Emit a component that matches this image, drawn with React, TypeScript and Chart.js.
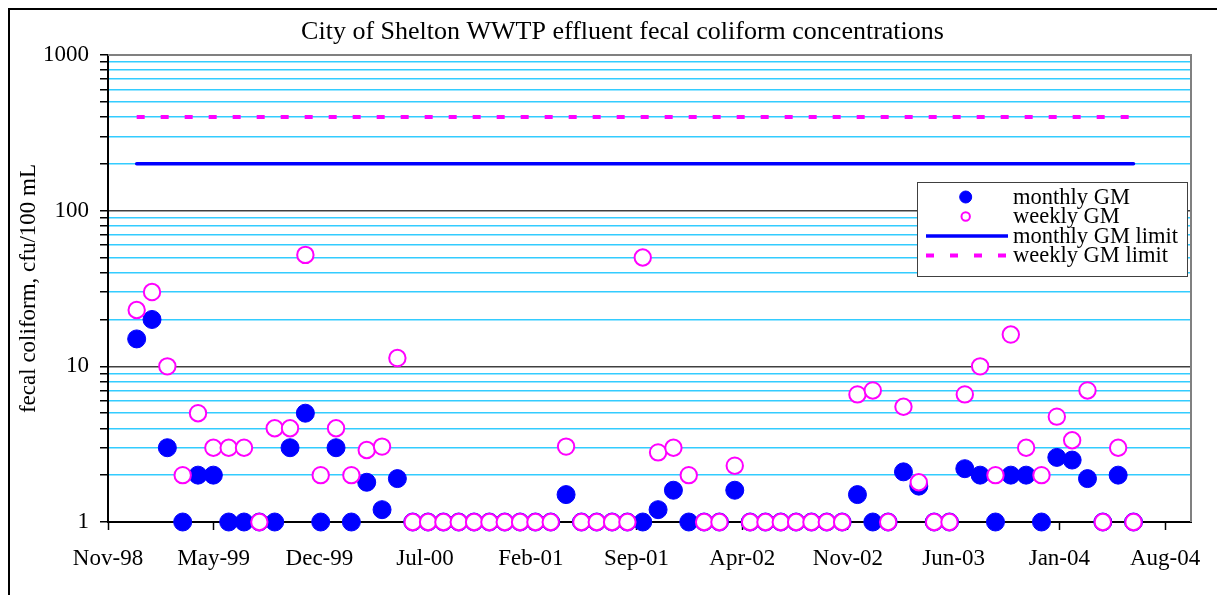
import React, { useEffect, useRef } from 'react';
import { Chart, registerables } from 'chart.js';

Chart.register(...registerables);

const SERIF = "'Liberation Serif', 'Times New Roman', Times, serif";

const chartTitle = 'City of Shelton WWTP effluent fecal coliform concentrations';
const yAxisTitle = 'fecal coliform, cfu/100 mL';
const seriesLabels = ['monthly GM', 'weekly GM', 'monthly GM limit', 'weekly GM limit'];

// one value per sampling month, Dec-98 (index 0) through May-04 (index 65)
const monthlyGM = [
  15, 20, 3, 1, 2, 2, 1, 1, 1, 1, 3, 5, 1, 3, 1, 1.8, 1.2, 1.9,
  1, 1, 1, 1, 1, 1, 1, 1, 1, 1,
  1.5, 1, 1, 1, 1,
  1, 1.2, 1.6, 1, 1, 1, 1.6,
  1, 1, 1, 1, 1, 1, 1,
  1.5, 1, 1, 2.1, 1.7, 1, 1, 2.2, 2, 1, 2, 2, 1, 2.6, 2.5, 1.9, 1, 2, 1,
];
const weeklyGM = [
  23, 30, 10, 2, 5, 3, 3, 3, 1, 4, 4, 52, 2, 4, 2, 2.9, 3.05, 11.3,
  1, 1, 1, 1, 1, 1, 1, 1, 1, 1,
  3.05, 1, 1, 1, 1,
  50, 2.8, 3, 2, 1, 1, 2.3,
  1, 1, 1, 1, 1, 1, 1,
  6.6, 7, 1, 5.5, 1.8, 1, 1, 6.6, 10, 2, 16, 3, 2, 4.75, 3.35, 7, 1, 3, 1,
];
const monthlyGMLimit = 200;
const weeklyGMLimit = 400;

const xTickLabels = ['Nov-98', 'May-99', 'Dec-99', 'Jul-00', 'Feb-01', 'Sep-01', 'Apr-02', 'Nov-02', 'Jun-03', 'Jan-04', 'Aug-04'];
const yMajorValues = [1, 10, 100, 1000];
const yTickLabels = ['1', '10', '100', '1000'];

// axis geometry (in sampling-month units)
const X_AXIS_MIN = -1.87;
const X_TICK_STEP = 6.893;
const X_AXIS_MAX = 68.75;

const yGridValues: number[] = [];
[1, 10, 100].forEach((d) => {
  for (let m = 1; m <= 9; m++) yGridValues.push(d * m);
});
yGridValues.push(1000);

const framePlugin = {
  id: 'frame',
  beforeDraw(chart: any) {
    const ctx = chart.ctx;
    ctx.save();
    ctx.fillStyle = '#000';
    ctx.fillRect(0, 0, chart.width, 2);
    ctx.fillRect(0, 0, 2, chart.height);
    ctx.fillStyle = '#000';
    ctx.font = `26px ${SERIF}`;
    ctx.textAlign = 'center';
    ctx.textBaseline = 'alphabetic';
    ctx.fillText(chartTitle, 614.5, 31);
    ctx.restore();
  },
};

const plotBorderPlugin = {
  id: 'plotBorder',
  beforeDatasetsDraw(chart: any) {
    const { ctx, chartArea } = chart;
    ctx.save();
    ctx.strokeStyle = '#808080';
    ctx.lineWidth = 2;
    ctx.beginPath();
    ctx.moveTo(chartArea.left, chartArea.top);
    ctx.lineTo(chartArea.right, chartArea.top);
    ctx.lineTo(chartArea.right, chartArea.bottom);
    ctx.stroke();
    ctx.restore();
  },
};

const legendPlugin = {
  id: 'boxLegend',
  afterDatasetsDraw(chart: any) {
    const ctx = chart.ctx;
    const box = { left: 909, top: 174, width: 270, height: 94 };
    const rowY = [189, 208.5, 228, 247.5];
    const symX = 957.7;
    const lineX1 = 918;
    const lineX2 = 1000;
    const textX = 1005;
    ctx.save();
    ctx.fillStyle = '#fff';
    ctx.fillRect(box.left, box.top, box.width, box.height);
    ctx.strokeStyle = '#404040';
    ctx.lineWidth = 1;
    ctx.strokeRect(box.left + 0.5, box.top + 0.5, box.width, box.height);
    chart.data.datasets.forEach((ds: any, i: number) => {
      const y = rowY[i];
      if (ds.type === 'line') {
        ctx.save();
        ctx.strokeStyle = ds.borderColor;
        ctx.lineWidth = ds.borderWidth;
        ctx.setLineDash(ds.borderDash || []);
        ctx.beginPath();
        ctx.moveTo(lineX1, y);
        ctx.lineTo(lineX2, y);
        ctx.stroke();
        ctx.restore();
      } else {
        ctx.beginPath();
        const r = i === 0 ? 6 : 4.2;
        ctx.arc(symX, y, r, 0, Math.PI * 2);
        ctx.fillStyle = ds.pointBackgroundColor;
        ctx.fill();
        ctx.lineWidth = ds.pointBorderWidth;
        ctx.strokeStyle = ds.pointBorderColor;
        ctx.stroke();
      }
      ctx.fillStyle = '#000';
      ctx.font = `22.5px ${SERIF}`;
      ctx.textBaseline = 'middle';
      ctx.textAlign = 'left';
      ctx.fillText(ds.label, textX, y + 1);
    });
    ctx.restore();
  },
};

export default function App() {
  const canvasRef = useRef<HTMLCanvasElement | null>(null);

  useEffect(() => {
    const canvas = canvasRef.current;
    if (!canvas) return;
    const idx = monthlyGM.map((_, i) => i);
    const chart = new Chart(canvas, {
      type: 'scatter',
      data: {
        datasets: [
          {
            label: seriesLabels[0],
            data: idx.map((i) => ({ x: i, y: monthlyGM[i] })),
            order: 2,
            showLine: false,
            pointRadius: 9,
            pointBackgroundColor: '#0000FF',
            pointBorderColor: '#0000FF',
            pointBorderWidth: 1,
            backgroundColor: '#0000FF',
            borderColor: '#0000FF',
            clip: false,
          } as any,
          {
            label: seriesLabels[1],
            data: idx.map((i) => ({ x: i, y: weeklyGM[i] })),
            order: 1,
            showLine: false,
            pointRadius: 8.2,
            pointBackgroundColor: '#FFFFFF',
            pointBorderColor: '#FF00FF',
            pointBorderWidth: 2,
            backgroundColor: '#FFFFFF',
            borderColor: '#FF00FF',
            clip: false,
          } as any,
          {
            label: seriesLabels[2],
            type: 'line',
            data: idx.map((i) => ({ x: i, y: monthlyGMLimit })),
            order: 3,
            borderColor: '#0000FF',
            borderWidth: 3.5,
            borderCapStyle: 'round',
            pointRadius: 0,
            fill: false,
          } as any,
          {
            label: seriesLabels[3],
            type: 'line',
            data: idx.map((i) => ({ x: i, y: weeklyGMLimit })),
            order: 4,
            borderColor: '#FF00FF',
            borderWidth: 4,
            borderDash: [8, 16],
            pointRadius: 0,
            fill: false,
          } as any,
        ],
      },
      options: {
        responsive: false,
        animation: false,
        events: [],
        layout: { padding: { left: 0, right: 34, top: 47, bottom: 0 } },
        plugins: {
          legend: { display: false },
          tooltip: { enabled: false },
          title: { display: false },
        },
        scales: {
          x: {
            type: 'linear',
            min: X_AXIS_MIN,
            max: X_AXIS_MAX,
            afterFit: (s: any) => {
              s.height = 73;
            },
            afterBuildTicks: (s: any) => {
              s.ticks = xTickLabels.map((_, i) => ({ value: X_AXIS_MIN + i * X_TICK_STEP }));
            },
            ticks: {
              autoSkip: false,
              maxRotation: 0,
              minRotation: 0,
              color: '#000',
              font: { family: SERIF, size: 23 },
              padding: 15,
              callback: (_v: any, i: number) => xTickLabels[i],
            },
            grid: { drawOnChartArea: false, drawTicks: true, tickLength: 8, tickColor: '#000', tickWidth: 1.5 },
            border: { display: true, color: '#000', width: 2 },
          },
          y: {
            type: 'logarithmic',
            min: 1,
            max: 1000,
            afterFit: (s: any) => {
              s.width = 100;
            },
            afterBuildTicks: (s: any) => {
              s.ticks = yGridValues.map((v) => ({ value: v }));
            },
            ticks: {
              autoSkip: false,
              color: '#000',
              font: { family: SERIF, size: 23 },
              padding: 11,
              callback: (v: any) => {
                const k = yMajorValues.indexOf(Number(v));
                return k >= 0 ? yTickLabels[k] : '';
              },
            },
            grid: {
              color: (c: any) => {
                const v = c.tick ? c.tick.value : 0;
                if (v === 1000) return '#808080';
                if (v === 1) return '#000000';
                if (v === 10 || v === 100) return '#404040';
                return '#33CCFF';
              },
              lineWidth: 1.5,
              drawTicks: true,
              tickLength: 8,
              tickColor: '#000',
              tickWidth: 1.5,
            },
            border: { display: true, color: '#000', width: 2 },
            title: {
              display: true,
              text: yAxisTitle,
              color: '#000',
              font: { family: SERIF, size: 23 },
              padding: { top: 6.7, bottom: 0 },
            },
          },
        },
      } as any,
      plugins: [framePlugin, plotBorderPlugin, legendPlugin],
    });
    return () => chart.destroy();
  }, []);

  return (
    <div style={{ width: 1217, height: 587 }}>
      <canvas ref={canvasRef} width={1217} height={587} style={{ display: 'block' }} />
    </div>
  );
}
